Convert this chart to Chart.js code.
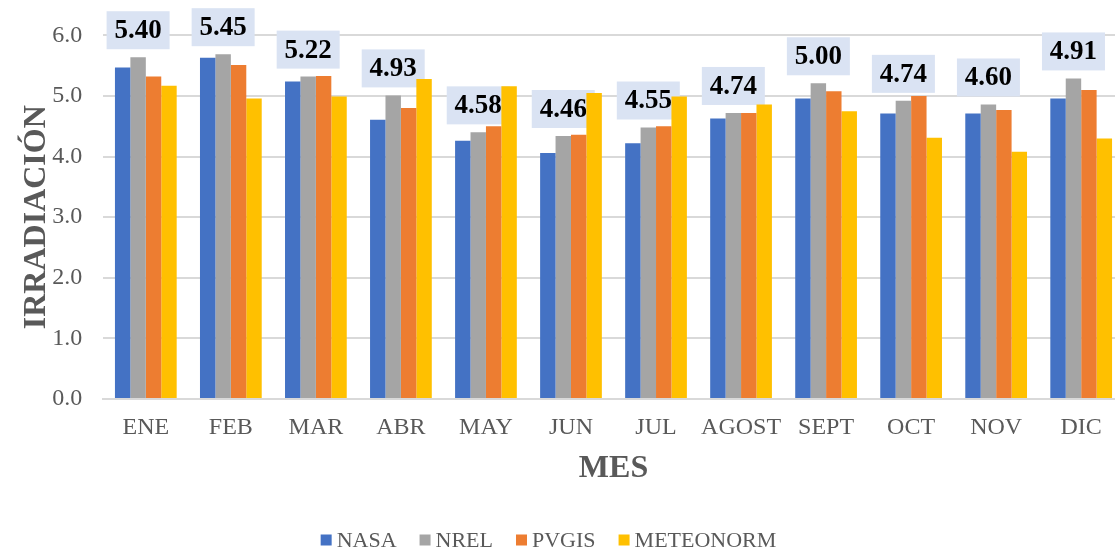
<!DOCTYPE html>
<html>
<head>
<meta charset="utf-8">
<script src="https://cdn.jsdelivr.net/npm/chart.js@4/dist/chart.umd.min.js"></script>
<style>
  html, body { margin: 0; padding: 0; background: #ffffff; overflow: hidden; width: 1115px; height: 552px; }
  #wrap { position: absolute; left: 0; top: 0; width: 1135px; height: 552px; }
  canvas { display: block; }
</style>
</head>
<body>
<div id="wrap"><canvas id="c" width="1135" height="552"></canvas></div>
<script>
const categories = ['ENE','FEB','MAR','ABR','MAY','JUN','JUL','AGOST','SEPT','OCT','NOV','DIC'];
const nasa      = [5.47,5.63,5.24,4.61,4.26,4.06,4.22,4.63,4.96,4.71,4.71,4.96];
const nrel      = [5.64,5.69,5.32,5.01,4.40,4.34,4.48,4.72,5.21,4.92,4.86,5.29];
const pvgis     = [5.32,5.51,5.33,4.80,4.50,4.36,4.50,4.72,5.08,5.00,4.77,5.10];
const meteonorm = [5.17,4.96,4.99,5.28,5.16,5.05,4.99,4.86,4.75,4.31,4.08,4.30];
const averageLabels = ['5.40','5.45','5.22','4.93','4.58','4.46','4.55','4.74','5.00','4.74','4.60','4.91'];
const seriesNames = ['NASA','NREL','PVGIS','METEONORM'];
const yTicks = [0,1,2,3,4,5,6];

const colors = ['#4472C4','#A5A5A5','#ED7D31','#FFC000'];
const SERIF = '"Liberation Serif", "Times New Roman", Times, serif';
const GRAY = '#595959';

const labelBoxes = {
  id: 'labelBoxes',
  beforeDatasetsDraw(chart) {
    const ctx = chart.ctx;
    const meta = chart.getDatasetMeta(1);
    ctx.save();
    ctx.font = 'bold 27px ' + SERIF;
    ctx.textAlign = 'center';
    ctx.textBaseline = 'middle';
    meta.data.forEach((bar, i) => {
      const w = 63, h = 38;
      const bottom = bar.y - 8;
      ctx.fillStyle = '#DAE3F3';
      ctx.fillRect(bar.x - w / 2, bottom - h, w, h);
      ctx.fillStyle = '#000000';
      ctx.fillText(averageLabels[i], bar.x, bottom - h / 2 + 1);
    });
    ctx.restore();
  }
};

const customLegend = {
  id: 'customLegend',
  afterDraw(chart) {
    const ctx = chart.ctx;
    ctx.save();
    ctx.font = '22px ' + SERIF;
    ctx.textBaseline = 'middle';
    ctx.textAlign = 'left';
    const sq = 11, gapSqText = 5, gapItems = 23;
    const widths = chart.data.datasets.map(d => ctx.measureText(d.label).width);
    let total = 0;
    widths.forEach((w, i) => { total += sq + gapSqText + w + (i < widths.length - 1 ? gapItems : 0); });
    let x = 548.5 - total / 2;
    const cy = 540;
    chart.data.datasets.forEach((d, i) => {
      ctx.fillStyle = d.backgroundColor;
      ctx.fillRect(x, cy - sq / 2, sq, sq);
      x += sq + gapSqText;
      ctx.fillStyle = GRAY;
      ctx.fillText(d.label, x, cy + 1);
      x += widths[i] + gapItems;
    });
    ctx.restore();
  }
};

new Chart(document.getElementById('c'), {
  type: 'bar',
  data: {
    labels: categories,
    datasets: [
      { label: seriesNames[0], data: nasa, backgroundColor: colors[0] },
      { label: seriesNames[1], data: nrel, backgroundColor: colors[1] },
      { label: seriesNames[2], data: pvgis, backgroundColor: colors[2] },
      { label: seriesNames[3], data: meteonorm, backgroundColor: colors[3] }
    ]
  },
  options: {
    responsive: false,
    animation: false,
    devicePixelRatio: 1,
    layout: { padding: { top: 30, right: 11.3, bottom: 53, left: 0 } },
    datasets: { bar: { categoryPercentage: 0.726, barPercentage: 1.0, borderWidth: 0 } },
    plugins: {
      legend: { display: false },
      tooltip: { enabled: false }
    },
    scales: {
      x: {
        grid: { display: false, drawTicks: false },
        border: { display: true, color: '#D9D9D9', width: 2 },
        ticks: { color: GRAY, font: { family: SERIF, size: 24 }, padding: 14, maxRotation: 0, autoSkip: false },
        title: { display: true, text: 'MES', color: GRAY, font: { family: SERIF, size: 32, weight: 'bold' }, padding: { top: 0, bottom: 11 } },
        afterFit(scale) { scale.height = 100; }
      },
      y: {
        min: 0, max: 6,
        afterBuildTicks(scale) { scale.ticks = yTicks.map(v => ({ value: v })); },
        grid: { color: '#D9D9D9', lineWidth: 2, drawTicks: false },
        border: { display: false },
        ticks: { color: GRAY, font: { family: SERIF, size: 24 }, padding: 21, callback: v => Number(v).toFixed(1) },
        title: { display: true, text: 'IRRADIACIÓN', color: GRAY, font: { family: SERIF, size: 32, weight: 'bold' }, padding: { top: 18, bottom: 0 } },
        afterFit(scale) { scale.width = 103.3; }
      }
    }
  },
  plugins: [labelBoxes, customLegend]
});
</script>
</body>
</html>
